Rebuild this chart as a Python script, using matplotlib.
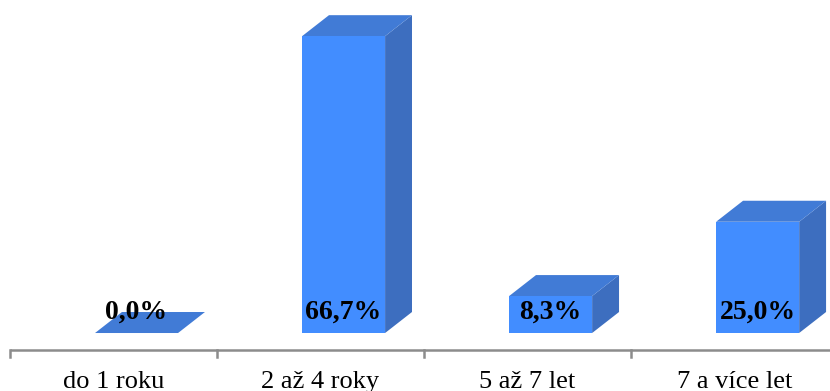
import matplotlib.pyplot as plt
from matplotlib.patches import Polygon

categories = ['do 1 roku', '2 až 4 roky', '5 až 7 let', '7 a více let']
values = [0.0, 66.7, 8.3, 25.0]
labels = ['0,0%', '66,7%', '8,3%', '25,0%']

front_col = '#428DFF'
top_col = '#417BD6'
side_col = '#3D6EBF'

fig = plt.figure(figsize=(8.3, 3.91), dpi=100)
ax = fig.add_axes([0, 0, 1, 1])
ax.set_xlim(-0.548, 3.461)
ax.set_ylim(-13.03, 74.83)
ax.axis('off')

x0, x1 = -0.089, 0.312   # front face relative to category centre
dx, dy = 0.130, 4.72     # depth offset

for i, v in enumerate(values):
    l, r = i + x0, i + x1
    if v > 0:
        ax.add_patch(Polygon([(l, 0), (r, 0), (r, v), (l, v)], closed=True,
                             fc=front_col, ec='none', zorder=3))
        ax.add_patch(Polygon([(r, 0), (r + dx, dy), (r + dx, v + dy), (r, v)],
                             closed=True, fc=side_col, ec='none', zorder=2))
    ax.add_patch(Polygon([(l, v), (r, v), (r + dx, v + dy), (l + dx, v + dy)],
                         closed=True, fc=top_col, ec='none', zorder=2))
    ax.text((l + r) / 2, 3.2, labels[i], ha='center', va='baseline',
            fontsize=20, fontweight='bold', family='Liberation Serif', zorder=5)

# floor axis with tick marks between categories
axis_y = -3.82
ax.plot([-0.5, 3.461], [axis_y, axis_y], color='#8C8C8C', lw=1.8,
        solid_capstyle='butt', zorder=1)
for t in range(len(categories) + 1):
    ax.plot([t - 0.5, t - 0.5], [axis_y, axis_y - 1.6], color='#8C8C8C',
            lw=1.8, zorder=1)
for i, c in enumerate(categories):
    ax.text(i, -12.36, c, ha='center', va='baseline', fontsize=19,
            family='Liberation Serif')

fig.savefig('out.png', dpi=100)
